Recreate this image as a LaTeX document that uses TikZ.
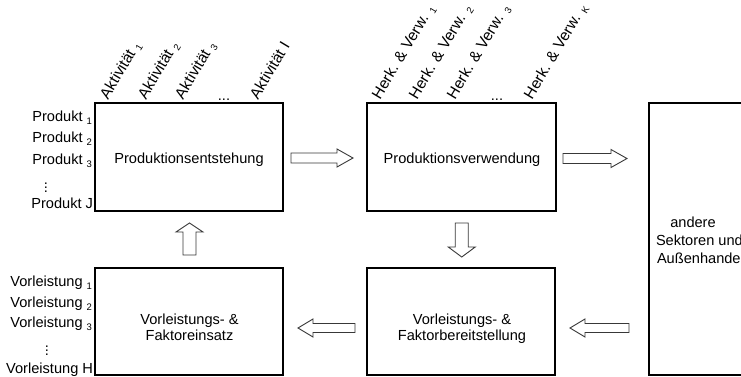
\documentclass[tikz,border=0pt]{standalone}
\usepackage{fontspec}
\setmainfont{Liberation Sans}
\usetikzlibrary{calc}
\newcommand\lbf{\fontsize{14.6bp}{17bp}\selectfont}
\newcommand\rbf{\fontsize{15.5bp}{18bp}\selectfont}
\newcommand\sbs[1]{\raisebox{-3bp}{\fontsize{9.5bp}{9.5bp}\selectfont #1}}
\newcommand\blockarr[6]{\draw[barrow, shift={#1}, rotate=#2] (-#3/2,-#4) -- (#3/2-#6,-#4) -- (#3/2-#6,-#5) -- (#3/2,0) -- (#3/2-#6,#5) -- (#3/2-#6,#4) -- (-#3/2,#4) -- cycle;}
\begin{document}
\begin{tikzpicture}[x=1bp,y=-1bp,
 box/.style={draw, line width=2.2bp, inner sep=0, outer sep=0},
 txt/.style={font=\lbf, inner sep=0, outer sep=0},
 rot/.style={font=\rbf, inner sep=0, outer sep=0, rotate=59, anchor=base west},
 barrow/.style={draw=black!78, line width=0.9bp, fill=white, line join=miter}]
\useasboundingbox (0,0) rectangle (741,376);
% boxes
\node[box, minimum width=188bp, minimum height=108bp] (pe) at (189,157) {};
\node[box, minimum width=189bp, minimum height=108bp] (pv) at (461.5,157) {};
\node[box, minimum width=151bp, minimum height=272bp] (as) at (724.5,239) {};
\node[box, minimum width=188bp, minimum height=107bp] (vf) at (189,321.5) {};
\node[box, minimum width=188bp, minimum height=107bp] (vb) at (461,321.5) {};
% box texts
\node[txt, anchor=base] (tpe) at (189,163) {Produktionsentstehung};
\node[txt, anchor=base] (tpv) at (462,163) {Produktionsverwendung};
\node[txt, anchor=base] (tvf1) at (189.5,324) {Vorleistungs- \&};
\node[txt, anchor=base] (tvf2) at (189.5,340) {Faktoreinsatz};
\node[txt, anchor=base] (tvb1) at (462,324) {Vorleistungs- \&};
\node[txt, anchor=base] (tvb2) at (462,340) {Faktorbereitstellung};
\node[txt, anchor=base] (tas1) at (693,227.5) {andere};
\node[txt, anchor=base west] (tas2) at (656,245.5) {Sektoren und};
\node[txt, anchor=base west] (tas3) at (657,263.5) {Außenhandel};
% left labels
\node[txt, anchor=base east] (p1) at (92,121) {Produkt \sbs{1}};
\node[txt, anchor=base east] (p2) at (92,142.5) {Produkt \sbs{2}};
\node[txt, anchor=base east] (p3) at (92,164) {Produkt \sbs{3}};
\node[txt] (pd) at (46,185) {\vdots};
\node[txt, anchor=base east] (pJ) at (93,208) {Produkt J};
\node[txt, anchor=base east] (v1) at (92,286) {Vorleistung \sbs{1}};
\node[txt, anchor=base east] (v2) at (92,307) {Vorleistung \sbs{2}};
\node[txt, anchor=base east] (v3) at (92,327) {Vorleistung \sbs{3}};
\node[txt] (vd) at (47,348) {\vdots};
\node[txt, anchor=base east] (vH) at (93,373.5) {Vorleistung H};
% rotated labels
\node[rot] (a1) at (108,100) {Aktivität \sbs{1}};
\node[rot] (a2) at (146,100) {Aktivität \sbs{2}};
\node[rot] (a3) at (183,100) {Aktivität \sbs{3}};
\node[txt, anchor=base] (ad) at (224,100) {...};
\node[rot] (aI) at (258,100) {Aktivität I};
\node[rot] (h1) at (380,100) {Herk. \& Verw. \sbs{1}};
\node[rot] (h2) at (417,100) {Herk. \& Verw. \sbs{2}};
\node[rot] (h3) at (455,100) {Herk. \& Verw. \sbs{3}};
\node[txt, anchor=base] (hd) at (497,100) {...};
\node[rot] (hK) at (532,100) {Herk. \& Verw. \sbs{K}};
% block arrows
\blockarr{($(pe.east)!0.5!(pv.west)+(-3,1)$)}{0}{62}{5}{9}{16}
\blockarr{($(pv.east)!0.5!(pv.east -| as.west)+(-7.5,1.5)$)}{0}{64}{5}{9}{16}
\blockarr{($(vb.east)!0.5!(vb.east -| as.west)+(-2.5,6.5)$)}{180}{59}{4.5}{9}{15}
\blockarr{($(vf.east)!0.5!(vb.west)+(1.5,6.5)$)}{180}{57}{4.5}{9}{15}
\blockarr{($(vf.north)!0.5!(pe.south)+(0.5,-0.5)$)}{90}{32}{6.5}{13.5}{9}
\blockarr{($(vb.north)!0.5!(pv.south)+(0.5,0.5)$)}{-90}{34}{6.5}{13.5}{10}
\end{tikzpicture}
\end{document}
